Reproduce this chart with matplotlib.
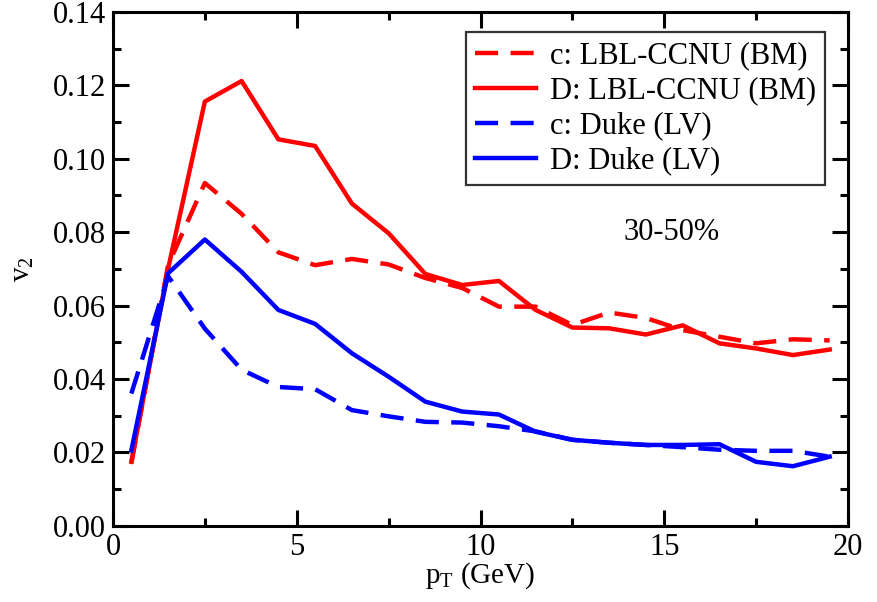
import matplotlib
matplotlib.use("Agg")
import matplotlib.pyplot as plt
from matplotlib.ticker import MultipleLocator

plt.rcParams['font.family'] = ['Liberation Serif', 'DejaVu Serif']
plt.rcParams['mathtext.fontset'] = 'custom'
plt.rcParams['mathtext.rm'] = 'Liberation Serif'
plt.rcParams['mathtext.it'] = 'Liberation Serif:italic'

pt = [0.5, 1.5, 2.5, 3.5, 4.5, 5.5, 6.5, 7.5, 8.5, 9.5,
      10.5, 11.5, 12.5, 13.5, 14.5, 15.5, 16.5, 17.5, 18.5, 19.5]

c_lbl = [0.017, 0.071, 0.0934, 0.085, 0.0745, 0.071, 0.0727, 0.0712, 0.0675, 0.0648,
         0.0597, 0.0597, 0.0547, 0.0581, 0.0566, 0.0533, 0.0515, 0.0497, 0.0508, 0.0505]
d_lbl = [0.0174, 0.070, 0.1156, 0.1212, 0.1053, 0.1035, 0.0878, 0.0797, 0.0686, 0.0656,
         0.0667, 0.0588, 0.0540, 0.0538, 0.0521, 0.0546, 0.0497, 0.0483, 0.0465, 0.0480]
c_duke = [0.036, 0.068, 0.0537, 0.0425, 0.0378, 0.0372, 0.0315, 0.0298, 0.0283, 0.0281,
          0.0271, 0.0257, 0.0234, 0.0226, 0.0220, 0.0214, 0.0207, 0.0204, 0.0204, 0.0188]
d_duke = [0.0205, 0.0688, 0.078, 0.0692, 0.0588, 0.055, 0.047, 0.0406, 0.0338, 0.0311,
          0.0303, 0.0256, 0.0234, 0.0226, 0.0220, 0.0220, 0.0222, 0.0174, 0.0162, 0.0188]

labels = ["c: LBL-CCNU (BM)", "D: LBL-CCNU (BM)", "c: Duke (LV)", "D: Duke (LV)"]

fig = plt.figure(figsize=(8.77, 6.02), dpi=100)
ax = fig.add_axes([0.1288, 0.1268, 0.967 - 0.1288, 0.980 - 0.1268])

lw = 3.2
dash = (5.2, 2.8)
ax.plot(pt, c_lbl, color='#ff0000', lw=lw, dashes=dash, label=labels[0])
ax.plot(pt, d_lbl, color='#ff0000', lw=lw, label=labels[1])
ax.plot(pt, c_duke, color='#0000ff', lw=lw, dashes=dash, label=labels[2])
ax.plot(pt, d_duke, color='#0000ff', lw=lw, label=labels[3])

ax.set_xlim(0, 20)
ax.set_ylim(0, 0.14)
ax.xaxis.set_major_locator(MultipleLocator(5))
ax.xaxis.set_minor_locator(MultipleLocator(2.5))
ax.yaxis.set_major_locator(MultipleLocator(0.02))
ax.yaxis.set_minor_locator(MultipleLocator(0.01))
ax.yaxis.set_major_formatter(matplotlib.ticker.FormatStrFormatter('%.2f'))

ax.tick_params(which='both', direction='in', top=True, right=True, width=2.2,
               labelsize=22, pad=5)
ax.tick_params(which='major', length=11.5)
ax.tick_params(which='minor', length=5.8)
for s in ax.spines.values():
    s.set_linewidth(2.2)

ax.set_xlabel(r'p$_\mathrm{T}$ (GeV)', fontsize=21, labelpad=-1)
ax.set_ylabel(r'v$_2$', fontsize=21, labelpad=12)

ax.text(15.2, 0.08, '30-50%', fontsize=22, ha='center', va='center')

leg = ax.legend(loc='upper right', bbox_to_anchor=(0.969, 0.961), fontsize=22,
                frameon=True, fancybox=False, edgecolor='black', handlelength=2.0,
                handletextpad=0.45, borderpad=0.3, labelspacing=0.2,
                borderaxespad=0)
leg.get_frame().set_linewidth(1.6)

fig.savefig('out.png', dpi=100)
